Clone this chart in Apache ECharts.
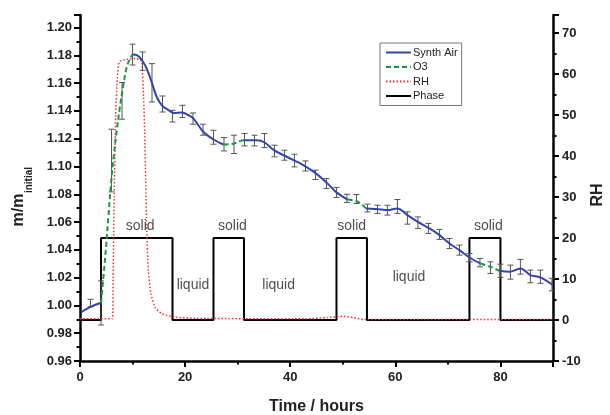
<!DOCTYPE html>
<html>
<head>
<meta charset="utf-8">
<script src="https://cdn.jsdelivr.net/npm/echarts@6/dist/echarts.min.js"></script>
<style>html,body{margin:0;padding:0;background:#fff}#c{width:610px;height:415px}</style>
</head>
<body>
<div id="c"></div>
<script>
// ---- data ----
const synthAirTime = [0.3, 2, 4, null, 10, 10.9, 11.8, 12.7, 13.7, 14.6, 15.6, 16.9, 17.8, 19.4, 20.7, 21.6, 23.5, 25.4, 27.3, null, 31.2, 33.7, 35.0, 36.9, 38.8, 40.7, 42.0, 44.5, 46.8, 48.7, 50.9, null, 54.4, 57.3, 58.5, 60.4, 62.3, 64.3, 66.5, 68.4, 70.3, 72.2, 74.1, 76.2, null, 79.8, 81.7, 83.8, 85.7, 87.6, 90];
const synthAirMass = [0.9954, 0.999, 1.0019, null, 1.1805, 1.1800, 1.1764, 1.1703, 1.160, 1.150, 1.144, 1.1404, 1.1385, 1.1388, 1.1368, 1.1344, 1.1248, 1.1194, 1.1158, null, 1.1189, 1.1189, 1.1176, 1.1117, 1.108, 1.1044, 1.1021, 1.0961, 1.0889, 1.0817, 1.0762, null, 1.0698, 1.069, 1.0686, 1.0698, 1.065, 1.0601, 1.0554, 1.0506, 1.0446, 1.0398, 1.0345, 1.0302, null, 1.0249, 1.0242, 1.0266, 1.0218, 1.0202, 1.0146];

const o3Time = [4, 4.8, 5.4, 5.9, 6.4, 7.0, 7.6, 8.3, 8.9, 9.5, 10, null, 27.3, 29.3, 30.5, 31.2, null, 50.9, 52.6, 53.8, 54.4, null, 76.2, 78.1, 79.8];
const o3Mass = [1.0019, 1.035, 1.0637, 1.0877, 1.1069, 1.126, 1.143, 1.160, 1.1716, 1.1776, 1.1805, null, 1.1158, 1.1165, 1.1184, 1.1189, null, 1.0762, 1.075, 1.0721, 1.0698, null, 1.0302, 1.0278, 1.0249];

const errTime = [2.0, 4.0, 6.0, 8.0, 10.0, 11.9, 13.7, 15.7, 17.6, 19.5, 21.5, 23.4, 25.4, 27.4, 29.3, 31.3, 33.2, 35.1, 37.0, 38.9, 40.8, 42.9, 44.8, 46.9, 48.8, 50.8, 52.6, 54.7, 56.6, 58.5, 60.4, 62.3, 64.3, 66.3, 68.4, 70.3, 72.2, 74.1, 76.1, 78.1, 80.0, 81.9, 83.8, 85.7, 87.6, 89.8];
const errLow  = [0.999, 0.9859, 1.0817, 1.134, 1.173, 1.1692, 1.1464, 1.1392, 1.132, 1.1352, 1.1304, 1.1225, 1.116, 1.1112, 1.1093, 1.1148, 1.1148, 1.1136, 1.1069, 1.1045, 1.0997, 1.0968, 1.0906, 1.0842, 1.0777, 1.0741, 1.0734, 1.0673, 1.0662, 1.065, 1.0662, 1.0585, 1.0554, 1.0518, 1.0475, 1.041, 1.0362, 1.0314, 1.0278, 1.023, 1.0202, 1.0189, 1.0225, 1.0163, 1.0159, 1.0105];
const errHigh = [1.0044, 1.0177, 1.1268, 1.1604, 1.188, 1.1824, 1.174, 1.1507, 1.1404, 1.144, 1.1385, 1.1304, 1.126, 1.1208, 1.1225, 1.1237, 1.1225, 1.1237, 1.1153, 1.1117, 1.1088, 1.104, 1.0973, 1.0913, 1.0849, 1.08, 1.0798, 1.0729, 1.0721, 1.0721, 1.0762, 1.0673, 1.0637, 1.059, 1.0547, 1.0482, 1.0434, 1.0374, 1.0338, 1.0314, 1.0297, 1.029, 1.0331, 1.0254, 1.0254, 1.0195];

const rhTime  = [0, 6.2, 6.3, 6.5, 6.8, 7.1, 7.5, 8.5, 10.5, 11.5, 11.8, 12.1, 12.3, 12.5, 12.7, 13.0, 13.5, 14.3, 15.6, 18.1, 22, 43, 47, 50.2, 52, 54, 90];
const rhValue = [0.3, 0.3, 10, 30, 50, 59, 63, 63.5, 63.8, 63.5, 62.5, 54.3, 46.2, 34, 21.8, 12, 6.4, 3.1, 1.5, 0.7, 0.4, 0.3, 0.6, 0.9, 0.6, 0.1, 0.1];

const phaseTime  = [0, 4, 17.6, 25.4, 31.2, 48.8, 54.6, 74.1, 80, 90];
const phaseValue = [0, 20, 0, 20, 0, 20, 0, 20, 0, 0];

const phaseLabelTime = [11.45, 21.5, 29, 37.8, 51.7, 62.6, 77.7];
const phaseLabelRH   = [23, 8.5, 23, 8.5, 23, 10.4, 23];
const phaseLabelText = ['solid', 'liquid', 'solid', 'liquid', 'solid', 'liquid', 'solid'];

const legendNames = ['Synth Air', 'O3', 'RH', 'Phase'];

// ---- chart ----
const FONT = '"Liberation Sans", Arial, Helvetica, sans-serif';
const pairs = (xs, ys) => xs.map((x, i) => (x === null || ys[i] === null) ? [null, null] : [x, ys[i]]);
const chart = echarts.init(document.getElementById('c'), null, {renderer: 'canvas'});

const axisCommon = {
  axisLine: {show: true, onZero: false, lineStyle: {color: '#000', width: 2.5}},
  axisTick: {show: true, inside: false, length: 6, lineStyle: {color: '#000', width: 2}},
  minorTick: {show: true, splitNumber: 2, length: 3.5, lineStyle: {color: '#000', width: 2}},
  splitLine: {show: false},
  minorSplitLine: {show: false}
};
const labelCommon = {fontSize: 13, fontWeight: 'bold', color: '#222', fontFamily: FONT, showMaxLabel: false};

chart.setOption({
  animation: false,
  backgroundColor: '#fff',
  grid: {left: 80, right: 57, top: 15, bottom: 54, containLabel: false, outerBoundsMode: 'none'},
  xAxis: Object.assign({
    type: 'value', min: 0, max: 90, interval: 20,
    axisLabel: Object.assign({margin: 10}, labelCommon),
    name: 'Time / hours', nameLocation: 'middle', nameGap: 38,
    nameTextStyle: {fontSize: 16, fontWeight: 'bold', color: '#222', fontFamily: FONT}
  }, axisCommon),
  yAxis: [
    Object.assign({
      type: 'value', position: 'left', min: 0.96, max: 1.209, interval: 0.02,
      axisLabel: Object.assign({margin: 8, formatter: v => v.toFixed(2)}, labelCommon)
    }, axisCommon),
    Object.assign({
      type: 'value', position: 'right', min: -10, max: 74.4, interval: 10,
      axisLabel: Object.assign({margin: 9, formatter: v => String(Math.round(v))}, labelCommon)
    }, axisCommon)
  ],
  legend: {
    data: legendNames, orient: 'vertical', left: 380, top: 43,
    itemWidth: 25, itemHeight: 10, itemGap: 3.5, padding: [4, 4, 4, 5],
    borderColor: '#777', borderWidth: 1, backgroundColor: '#fff',
    itemStyle: {opacity: 0},
    textStyle: {fontSize: 11, color: '#222', fontFamily: FONT, padding: [0, 0, 0, -3]}
  },
  graphic: [
    {type: 'text', x: 19, y: 210, rotation: Math.PI / 2, style: {text: 'm/m', font: 'bold 16px ' + FONT, fill: '#222', align: 'center', verticalAlign: 'middle'}},
    {type: 'text', x: 29, y: 180, rotation: Math.PI / 2, style: {text: 'initial', font: 'bold 10px ' + FONT, fill: '#222', align: 'center', verticalAlign: 'middle'}},
    {type: 'text', x: 598, y: 195, rotation: Math.PI / 2, style: {text: 'RH', font: 'bold 16px ' + FONT, fill: '#222', align: 'center', verticalAlign: 'middle'}}
  ],
  series: [
    {
      name: 'Phase', type: 'line', yAxisIndex: 1, step: 'end', symbol: 'none',
      data: pairs(phaseTime, phaseValue),
      lineStyle: {color: '#000', width: 2}, itemStyle: {color: '#000'}, z: 2
    },
    {
      name: 'RH', type: 'line', yAxisIndex: 1, symbol: 'none', smooth: 0.2,
      data: pairs(rhTime, rhValue),
      lineStyle: {color: '#ff2a2a', width: 1.5, type: [1.5, 2]}, itemStyle: {color: '#ff2a2a'}, z: 3
    },
    {
      name: 'errbars', type: 'custom', yAxisIndex: 0,
      data: errTime.map((t, i) => [t, errLow[i], errHigh[i]]),
      encode: {x: 0, y: [1, 2]},
      renderItem: (params, api) => {
        const t = api.value(0);
        const p1 = api.coord([t, api.value(1)]);
        const p2 = api.coord([t, api.value(2)]);
        const w = 3;
        const st = {stroke: '#555', lineWidth: 1};
        return {type: 'group', children: [
          {type: 'line', shape: {x1: p1[0], y1: p1[1], x2: p2[0], y2: p2[1]}, style: st},
          {type: 'line', shape: {x1: p1[0] - w, y1: p1[1], x2: p1[0] + w, y2: p1[1]}, style: st},
          {type: 'line', shape: {x1: p2[0] - w, y1: p2[1], x2: p2[0] + w, y2: p2[1]}, style: st}
        ]};
      },
      z: 4, silent: true
    },
    {
      name: 'Synth Air', type: 'line', yAxisIndex: 0, symbol: 'none', smooth: 0.35, connectNulls: false,
      data: pairs(synthAirTime, synthAirMass),
      lineStyle: {color: '#3345a8', width: 2}, itemStyle: {color: '#3345a8'}, z: 5
    },
    {
      name: 'O3', type: 'line', yAxisIndex: 0, symbol: 'none', smooth: 0.35, connectNulls: false,
      data: pairs(o3Time, o3Mass),
      lineStyle: {color: '#159a3c', width: 2, type: [5, 3]}, itemStyle: {color: '#159a3c'}, z: 5
    },
    {
      name: 'phaseLabels', type: 'scatter', yAxisIndex: 1, symbolSize: 1,
      itemStyle: {color: 'transparent'},
      data: phaseLabelTime.map((t, i) => ({value: [t, phaseLabelRH[i]], name: phaseLabelText[i]})),
      label: {show: true, position: 'inside', formatter: p => p.name, fontSize: 14, color: '#222', fontFamily: FONT},
      silent: true, z: 6
    }
  ]
});
</script>
</body>
</html>
